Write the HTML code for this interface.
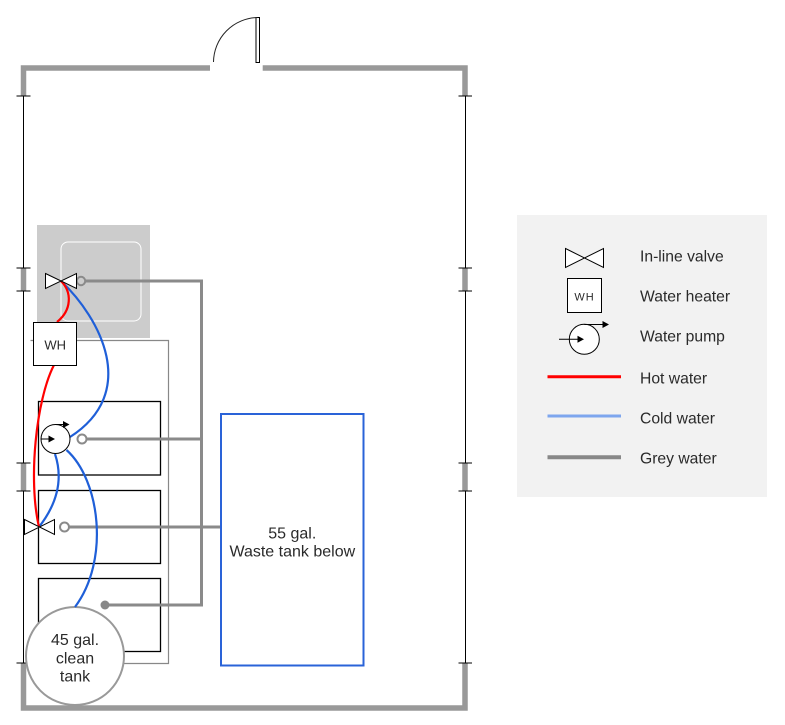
<!DOCTYPE html>
<html><head><meta charset="utf-8"><style>
html,body{margin:0;padding:0;background:#fff;}
svg{display:block;}
text{font-family:"Liberation Sans",Arial,sans-serif;fill:#2a2a2a;}
</style></head><body>
<svg width="785" height="725" viewBox="0 0 785 725" xmlns="http://www.w3.org/2000/svg">
<!-- walls -->
<g fill="none" stroke="#999" stroke-width="5.5" stroke-linejoin="miter">
<path d="M23.5 96 V68 H210"/>
<path d="M262.7 68 H465 V96"/>
<path d="M23.5 268 V291"/><path d="M23.5 463 V491"/>
<path d="M465 268 V291"/><path d="M465 463 V491"/>
<path d="M23.5 663 V708 H465 V663"/>
</g>
<g stroke="#000" stroke-width="1" fill="none">
<path d="M23.5 96 V268 M23.5 291 V463 M23.5 491 V663"/>
<path d="M465.5 96 V268 M465.5 291 V463 M465.5 491 V663"/>
<path d="M16.5 96 H30.5 M16.5 268 H30.5 M16.5 291 H30.5 M16.5 463 H30.5 M16.5 491 H30.5 M16.5 663 H30.5"/>
<path d="M458.5 96 H472 M458.5 268 H472 M458.5 291 H472 M458.5 463 H472 M458.5 491 H472 M458.5 663 H472"/>
</g>
<!-- door -->
<rect x="256" y="17.5" width="3.5" height="45" fill="#fff" stroke="#000" stroke-width="1"/>
<path d="M213.5 62 A45 45 0 0 1 257.5 17.5" fill="none" stroke="#222" stroke-width="1"/>
<!-- shaded sink area -->
<rect x="37" y="225" width="113" height="113" fill="#cccccc"/>
<rect x="61" y="242" width="80" height="79" rx="7" fill="none" stroke="#fff" stroke-width="1"/>
<!-- cabinet outline -->
<path d="M30.5 340.5 H168.5 V663.5 H120" fill="none" stroke="#888" stroke-width="1.2"/>
<g fill="none" stroke="#000" stroke-width="1.3">
<rect x="38.5" y="401.5" width="122" height="73.5"/>
<rect x="38.5" y="490.5" width="122" height="73"/>
<rect x="38.5" y="578.5" width="122" height="73"/>
</g>
<!-- grey water -->
<g fill="none" stroke="#8a8a8a" stroke-width="3">
<path d="M85 281 H201.5 V605 H105"/>
<path d="M86.5 439 H201.5"/>
<path d="M69 527 H221"/>
</g>
<g fill="none" stroke="#8a8a8a" stroke-width="2">
<circle cx="81" cy="281" r="4.2"/>
<circle cx="82" cy="439" r="4.5"/>
<circle cx="64.5" cy="527" r="4.5"/>
</g>
<circle cx="105" cy="605" r="4.5" fill="#888"/>
<!-- waste tank -->
<rect x="221" y="414" width="142.5" height="251.5" fill="#fff" stroke="#2a63d8" stroke-width="2"/>
<text x="292.3" y="538.3" font-size="16" text-anchor="middle">55 gal.</text>
<text x="292.3" y="556.7" font-size="16" text-anchor="middle">Waste tank below</text>
<!-- clean tank -->
<circle cx="75" cy="656" r="49" fill="#fff" stroke="#999" stroke-width="2"/>
<text x="75" y="645" font-size="16" text-anchor="middle">45 gal.</text>
<text x="75" y="663.3" font-size="16" text-anchor="middle">clean</text>
<text x="75" y="681.7" font-size="16" text-anchor="middle">tank</text>
<!-- cold water curves -->
<g fill="none" stroke="#1f5fd8" stroke-width="2.2">
<path d="M61 281 C100 318, 140 392, 70 437"/>
<path d="M55 454 C62 475, 60 500, 39 527"/>
<path d="M66.5 450 C100 480, 110 560, 75 607"/>
</g>
<!-- hot water curves -->
<g fill="none" stroke="#ff0000" stroke-width="2.2">
<path d="M61 281 C72 292, 72 310, 57 322"/>
<path d="M54 365 C36 400, 28 480, 39 527"/>
</g>
<!-- valves -->
<g fill="#fff" stroke="#000" stroke-width="1">
<polygon points="45.5,273.5 76.5,288.5 76.5,273.5 45.5,288.5"/>
<polygon points="24.5,519.5 54.5,534.5 54.5,519.5 24.5,534.5"/>
</g>
<!-- water heater -->
<rect x="33.5" y="322.5" width="43" height="43" fill="#fff" stroke="#000" stroke-width="1"/>
<text x="55.2" y="349.3" font-size="13" text-anchor="middle">WH</text>
<!-- pump -->
<circle cx="55.5" cy="439" r="14.5" fill="#fff" stroke="#000" stroke-width="1"/>
<path d="M41 439 H50" stroke="#000" stroke-width="1"/>
<polygon points="55,439 48.5,435.5 48.5,442.5" fill="#000"/>
<path d="M55.5 424.5 H64" stroke="#000" stroke-width="1"/>
<polygon points="69.5,424.5 63,421 63,428" fill="#000"/>
<!-- legend -->
<rect x="517" y="215" width="250" height="282" fill="#f2f2f2"/>
<polygon points="565.5,248.5 603.5,267.5 603.5,248.5 565.5,267.5" fill="#fff" stroke="#000" stroke-width="1"/>
<rect x="567.5" y="278.5" width="34" height="34" fill="#fff" stroke="#000" stroke-width="1"/>
<text x="584.5" y="300.5" font-size="11" text-anchor="middle" letter-spacing="1">WH</text>
<circle cx="584.3" cy="339.3" r="15" fill="#fff" stroke="#000" stroke-width="1"/>
<path d="M559 339.3 H578" stroke="#000" stroke-width="1"/>
<polygon points="584,339.3 577.5,335.8 577.5,342.8" fill="#000"/>
<path d="M584.3 324.5 H603" stroke="#000" stroke-width="1"/>
<polygon points="609,324.5 602.5,321 602.5,328" fill="#000"/>
<path d="M547.5 376.7 H621" stroke="#ff0000" stroke-width="3"/>
<path d="M547.5 416 H621" stroke="#7ea6ee" stroke-width="3"/>
<path d="M547.5 457.3 H621" stroke="#888" stroke-width="4"/>
<g font-size="15.7">
<text x="640" y="261.7">In-line valve</text>
<text x="640" y="301.7">Water heater</text>
<text x="640" y="341.7">Water pump</text>
<text x="640" y="383.3">Hot water</text>
<text x="640" y="423.3">Cold water</text>
<text x="640" y="463.3">Grey water</text>
</g>
</svg>
</body></html>
